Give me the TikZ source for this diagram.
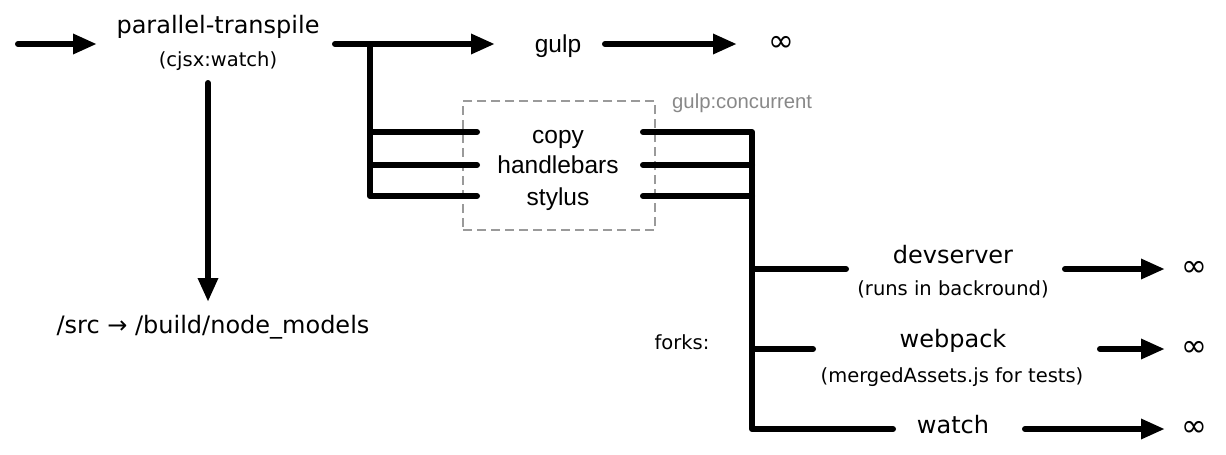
\documentclass[tikz,border=0pt]{standalone}
\usepackage{fontspec}
\setmainfont{DejaVu Sans}
\newfontfamily\helv{Liberation Sans}
\usetikzlibrary{arrows.meta}
\definecolor{boxgray}{HTML}{9A9A9A}
\definecolor{labgray}{HTML}{888888}
\begin{document}
\begin{tikzpicture}[x=1pt,y=-1pt,
  wire/.style={line width=6pt, line cap=round, line join=round},
  arr/.style={wire, -{Triangle[length=24pt,width=19pt]}},
  lbl/.style={inner sep=0pt, anchor=base, font=\fontsize{24}{28}\selectfont},
  sub/.style={inner sep=0pt, anchor=base, font=\fontsize{19.5}{24}\selectfont},
  hv/.style={inner sep=0pt, anchor=base, font=\helv\fontsize{24.5}{28}\selectfont},
  inf/.style={inner sep=0pt, font=\fontsize{31}{34}\selectfont},
  grp/.style={draw=boxgray, line width=2.5pt, dash pattern=on 9pt off 5pt, minimum width=192pt, minimum height=129pt, inner sep=0pt}]
\useasboundingbox (0,0) rectangle (1226,455);

% text nodes
\node[lbl] (pt) at (218,33) {parallel-transpile};
\node[sub] (ptsub) at (218,66) {(cjsx:watch)};
\node[lbl] (src) at (213,333) {/src → /build/node\_models};
\node[hv] (gulp) at (558,52) {gulp};
\node[inf] (inf1) at (781,44) {∞};
\node[grp] (gbox) at (559,165.5) {};
\node[inner sep=0pt, anchor=base west, text=labgray, font=\helv\fontsize{20.3}{24}\selectfont] (gc) at (672,108) {gulp:concurrent};
\node[hv] (copy) at (558,143) {copy};
\node[hv] (hb) at (558,173) {handlebars};
\node[hv] (sty) at (558,205) {stylus};
\node[lbl] (dev) at (953,263) {devserver};
\node[sub] (devsub) at (953,295) {(runs in backround)};
\node[lbl] (wp) at (953,347) {webpack};
\node[sub] (wpsub) at (952,382) {(mergedAssets.js for tests)};
\node[lbl] (wat) at (953,433) {watch};
\node[sub] (forks) at (682,349) {forks:};
\node[inf] (inf2) at (1194,269) {∞};
\node[inf] (inf3) at (1194,349) {∞};
\node[inf] (inf4) at (1194,429) {∞};

% connector end points
\coordinate (inA) at (18,44);   \coordinate (inB) at (97,44);
\coordinate (mA) at (335,44);   \coordinate (mB) at (495,44);
\coordinate (jT) at (370,44);
\coordinate (l1) at (477,132);  \coordinate (l2) at (477,165);  \coordinate (l3) at (477,196);
\coordinate (jl1) at (370,132); \coordinate (jl2) at (370,165);
\coordinate (r1) at (643,132);  \coordinate (r2) at (643,165);  \coordinate (r3) at (643,196);
\coordinate (jr1) at (752,132); \coordinate (jr2) at (752,165); \coordinate (jr3) at (752,196);
\coordinate (jd) at (752,269);  \coordinate (jw) at (752,349);  \coordinate (jb) at (752,429);
\coordinate (de) at (846,269);  \coordinate (we) at (813,349);  \coordinate (wa) at (893,429);
\coordinate (vA) at (208,83);   \coordinate (vB) at (208,302);
\coordinate (gA) at (605,44);   \coordinate (gB) at (737,44);
\coordinate (dA) at (1065,269); \coordinate (dB) at (1165,269);
\coordinate (wA) at (1100,349); \coordinate (wB) at (1165,349);
\coordinate (tA) at (1025,429); \coordinate (tB) at (1165,429);

% connectors
\draw[arr] (inA) -- (inB);
\draw[arr] (mA) -- (mB);
\draw[arr] (vA) -- (vB);
\draw[arr] (gA) -- (gB);
\draw[wire] (jT) |- (l3);
\draw[wire] (jl1) -- (l1);
\draw[wire] (jl2) -- (l2);
\draw[wire] (r1) -| (jb) -- (wa);
\draw[wire] (r2) -- (jr2);
\draw[wire] (r3) -- (jr3);
\draw[wire] (jd) -- (de);
\draw[wire] (jw) -- (we);
\draw[arr] (dA) -- (dB);
\draw[arr] (wA) -- (wB);
\draw[arr] (tA) -- (tB);
\end{tikzpicture}
\end{document}
